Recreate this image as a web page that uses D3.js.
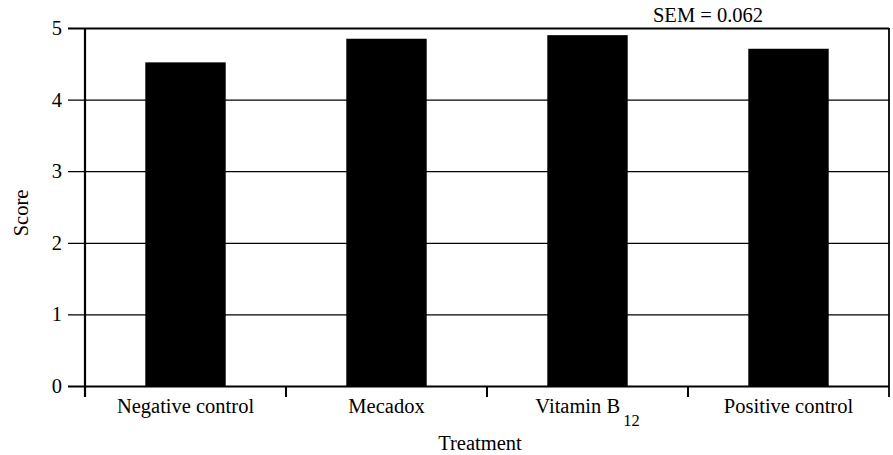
<!DOCTYPE html>
<html>
<head>
<meta charset="utf-8">
<script src="https://cdn.jsdelivr.net/npm/d3@7"></script>
<style>
	body{margin:0;background:#fff;}
	text{font-family:"Liberation Serif","Times New Roman",serif;fill:#000;}
</style>
</head>
<body>
<div class="chart"></div>
<script>
/*  ======== Data ============= */
var categories = ['Negative control', 'Mecadox', 'Vitamin B', 'Positive control'];
var subscripts = ['', '', '12', ''];
var scores = [4.52, 4.85, 4.90, 4.71];
var yTicks = [0, 1, 2, 3, 4, 5];
var semText = 'SEM = 0.062';
/*  ======== Data ============= */

function drawBarChart(className, width, height){
	var plotLeft = 85, plotRight = 889, plotTop = 28, plotBottom = 386;
	var tickOut = 17, xTickLen = 11;
	var fontSize = 20.5;
	var fontFamily = '"Liberation Serif","Times New Roman",serif';

	var svg = d3.select('.'+className)
				.append('svg')
				.attr('width', width)
				.attr('height', height);

	var x = d3.scaleBand()
			.domain(categories)
			.range([plotLeft, plotRight]);
	var y = d3.scaleLinear()
			.domain([0, 5])
			.range([plotBottom, plotTop]);

	// grid lines that run across and stick out left of the axis as ticks
	var yAxis = d3.axisLeft(y)
			.tickValues(yTicks)
			.tickSizeInner(-(plotRight - plotLeft + tickOut))
			.tickSizeOuter(0)
			.tickPadding(6)
			.tickFormat(d3.format('d'));
	var gy = svg.append('g')
			.attr('transform', 'translate(' + (plotLeft - tickOut) + ',0)')
			.call(yAxis);
	gy.select('.domain').remove();
	gy.selectAll('.tick line')
			.attr('stroke', '#000')
			.attr('stroke-width', function(d){ return (d == 0 || d == 5) ? 2.2 : 1.2; });
	gy.selectAll('.tick text')
			.attr('font-size', fontSize)
			.attr('font-family', fontFamily)
			.attr('fill', '#000');

	// bars
	var barW = x.bandwidth()*0.4;
	svg.selectAll('.bar')
			.data(scores)
			.enter()
			.append('rect')
			.attr('class', 'bar')
			.attr('x', function(d, i){ return x(categories[i]) + (x.bandwidth() - barW)/2; })
			.attr('y', function(d){ return y(d); })
			.attr('width', barW)
			.attr('height', function(d){ return y(0) - y(d); })
			.attr('fill', '#000');

	// left axis and right frame
	svg.append('line')
			.attr('x1', plotLeft).attr('x2', plotLeft)
			.attr('y1', y(5)).attr('y2', plotBottom + xTickLen)
			.attr('stroke', '#000').attr('stroke-width', 2.2);
	svg.append('line')
			.attr('x1', plotRight).attr('x2', plotRight)
			.attr('y1', y(5)).attr('y2', plotBottom + xTickLen)
			.attr('stroke', '#000').attr('stroke-width', 1.8);

	// category boundary ticks
	for(var i = 1; i < categories.length; i++){
		var bx = x(categories[i]);
		svg.append('line')
			.attr('x1', bx).attr('x2', bx)
			.attr('y1', plotBottom).attr('y2', plotBottom + xTickLen)
			.attr('stroke', '#000').attr('stroke-width', 2);
	}

	// category labels
	for(i = 0; i < categories.length; i++){
		var t = svg.append('text')
				.attr('x', x(categories[i]) + x.bandwidth()/2)
				.attr('y', 413)
				.attr('font-size', fontSize)
				.attr('text-anchor', 'middle');
		t.append('tspan').text(categories[i]);
		if(subscripts[i] != ''){
			t.append('tspan')
				.attr('dx', 3)
				.attr('dy', 13)
				.attr('font-size', 16.5)
				.text(subscripts[i]);
		}
	}

	// axis titles
	svg.append('text')
			.attr('x', 480)
			.attr('y', 450)
			.attr('font-size', fontSize)
			.attr('text-anchor', 'middle')
			.text('Treatment');
	svg.append('text')
			.attr('transform', 'translate(28,213) rotate(-90)')
			.attr('font-size', fontSize)
			.attr('text-anchor', 'middle')
			.text('Score');

	svg.append('text')
			.attr('x', 708)
			.attr('y', 22)
			.attr('font-size', fontSize)
			.attr('text-anchor', 'middle')
			.text(semText);
}
drawBarChart('chart', 893, 455);
</script>
</body>
</html>
